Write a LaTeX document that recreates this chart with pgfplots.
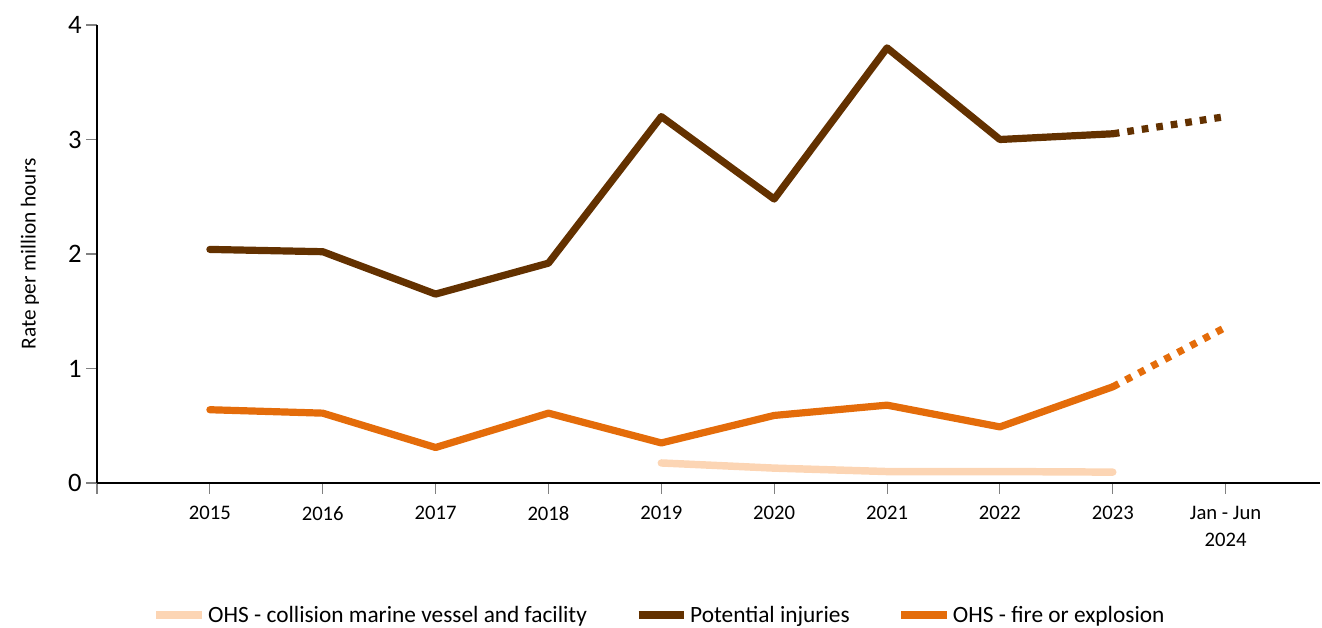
\documentclass[border=0pt]{standalone}
\usepackage{fontspec}
\setmainfont{Carlito}
\usepackage{pgfplots}
\pgfplotsset{compat=1.18}
\definecolor{brownline}{RGB}{99,49,0}
\definecolor{orangeline}{RGB}{228,108,10}
\definecolor{peachline}{RGB}{252,213,180}

\begin{document}
\begin{tikzpicture}
\begin{axis}[
    scale only axis,
    width=917.25pt, height=343.5pt,
    xmin=-1, xmax=9.836, ymin=0, ymax=4,
    axis lines=left,
    axis line style={-, black, line width=1.8pt},
    xtick={-1,0,...,9},
    xticklabels={,2015,2016,2017,2018,2019,2020,2021,2022,2023,{Jan - Jun\\2024}},
    ytick={0,1,2,3,4},
    tick align=outside,
    major tick length=8pt,
    tick style={gray, line width=0.8pt},
    xticklabel style={font=\fontsize{15.5}{20}\selectfont, align=center, yshift=-6pt},
    yticklabel style={font=\fontsize{20}{22}\selectfont},
    /pgf/number format/assume math mode=true,
    ylabel={Rate per million hours},
    ylabel style={font=\fontsize{16}{18}\selectfont, at={(axis description cs:-0.0548,0.5)}, anchor=center},
    legend columns=3,
    legend cell align=left,
    legend style={at={(axis description cs:0.4603,-0.288)}, anchor=center, draw=none,
        font=\fontsize{17.5}{20}\selectfont,
        /tikz/every even column/.append style={column sep=34pt}},
    legend image code/.code={\draw[#1, line cap=butt] (0pt,0pt) -- (34pt,0pt);},
]
% OHS - collision marine vessel and facility
\addplot[peachline, line width=5.6pt, line cap=round, line join=round] coordinates {
    (4,0.175) (5,0.13) (6,0.10) (7,0.10) (8,0.095)
};
\addlegendentry{OHS - collision marine vessel and facility}
% Potential injuries
\addplot[brownline, line width=5.4pt, line cap=round, line join=round] coordinates {
    (0,2.04) (1,2.02) (2,1.65) (3,1.92) (4,3.20) (5,2.48) (6,3.80) (7,3.00) (8,3.05)
};
\addlegendentry{Potential injuries}
% OHS - fire or explosion
\addplot[orangeline, line width=5.4pt, line cap=round, line join=round] coordinates {
    (0,0.64) (1,0.61) (2,0.31) (3,0.61) (4,0.35) (5,0.59) (6,0.68) (7,0.49) (8,0.84)
};
\addlegendentry{OHS - fire or explosion}
% part-year 2024, dotted
\addplot[brownline, line width=5.4pt, dash pattern=on 5pt off 6pt, forget plot] coordinates {
    (8,3.05) (9,3.20)
};
\addplot[orangeline, line width=5.4pt, dash pattern=on 5pt off 6pt, forget plot] coordinates {
    (8,0.84) (9,1.36)
};
\end{axis}
\pgfresetboundingbox
\path (-72.75pt,-108.75pt) rectangle (918.75pt,362.25pt);
\end{tikzpicture}
\end{document}
